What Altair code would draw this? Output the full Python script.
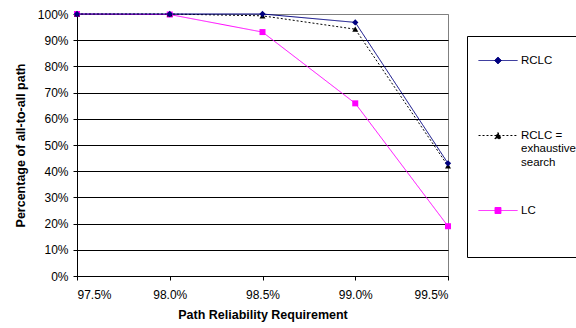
import altair as alt
import pandas as pd

# ---- data ----
requirements = [97.5, 98.0, 98.5, 99.0, 99.5]
series_names = ["LC", "RCLC = exhaustive search", "RCLC"]
rclc = [1.00, 1.00, 1.00, 0.968, 0.43]
rclc_exhaustive = [1.00, 1.00, 0.993, 0.942, 0.42]
lc = [1.00, 0.998, 0.931, 0.659, 0.19]
y_ticks = [0, 0.1, 0.2, 0.3, 0.4, 0.5, 0.6, 0.7, 0.8, 0.9, 1.0]
legend_order = ["RCLC", "RCLC = exhaustive search", "LC"]

rows = []
for name, vals in zip(series_names, [lc, rclc_exhaustive, rclc]):
    for r, v in zip(requirements, vals):
        rows.append({"req": r, "pct": v, "series": name, "s2": name})
df = pd.DataFrame(rows)

colors = {"RCLC": "#000080", "RCLC = exhaustive search": "#000000", "LC": "#FF00FF"}
marker_shapes = {"RCLC": "diamond", "RCLC = exhaustive search": "triangle-up", "LC": "square"}
marker_sizes = {"RCLC": 40, "RCLC = exhaustive search": 36, "LC": 36}
dom = legend_order
rng = [colors[s] for s in dom]

# legend symbol paths (line + marker), unit coordinates
A, B, C = -0.54, 1.083, 0.27
def line_path():
    return f"M{A},0L{B},0"
def dashed_path():
    parts = []
    x = A
    step = 0.083
    while x < B:
        x2 = min(x + step, B)
        parts.append(f"M{x:.3f},0L{x2:.3f},0")
        x += 2 * step
    return "".join(parts)
d = 0.146
diamond = f"M{C},{-d}L{C+d},0L{C},{d}L{C-d},0Z"
t = 0.13
triangle = f"M{C},{-t}L{C+t},{t}L{C-t},{t}Z"
s = 0.125
square = f"M{C-s},{-s}L{C+s},{-s}L{C+s},{s}L{C-s},{s}Z"
legend_shapes = [line_path() + diamond, dashed_path() + triangle, line_path() + square]

x_enc = alt.X("req:Q", scale=alt.Scale(domain=[97.5, 99.5], nice=False, zero=False),
              axis=alt.Axis(values=requirements, labelExpr="format(datum.value, '.1f') + '%'",
                            grid=False, tickSize=4, labelPadding=9, domainColor="black",
                            tickColor="black", title="Path Reliability Requirement",
                            titlePadding=8))
y_enc = alt.Y("pct:Q", scale=alt.Scale(domain=[0, 1], nice=False),
              axis=alt.Axis(values=y_ticks, format=".0%", tickSize=4, labelPadding=5,
                            domainColor="black", tickColor="black",
                            gridColor={"condition": {"test": "datum.value >= 0.999", "value": "#808080"},
                                       "value": "#000000"},
                            title="Percentage of all-to-all path", titlePadding=10))

label_expr = (
    "datum.label == 'RCLC = exhaustive search' ? ['RCLC =', 'exhaustive', 'search'] : "
    "(datum.label == 'LC' ? ['LC', ' ', ' ', ' '] : [datum.label, ' ', ' '])"
)

def make_legend():
    return alt.Legend(
        title=None, legendX=390, legendY=22, strokeColor="black", padding=0,
        rowPadding=18, labelOffset=5, labelFont="Liberation Sans", labelFontSize=11.5,
        labelColor="black", symbolSize=2304, symbolStrokeWidth=1, symbolOpacity=1,
        labelLimit=200, labelBaseline="middle", fillColor="white", labelExpr=label_expr,
    )

base = alt.Chart(df)
# hidden under the markers: carries the legend symbols (line + marker)
shape_layer = base.mark_point(filled=True, size=3, opacity=1).encode(
    x=x_enc, y=y_enc,
    shape=alt.Shape("s2:N", scale=alt.Scale(domain=dom, range=legend_shapes), legend=make_legend()),
)
lines = base.mark_line(strokeWidth=1).encode(
    x=x_enc, y=y_enc,
    color=alt.Color("series:N", scale=alt.Scale(domain=dom, range=rng), legend=None),
    strokeDash=alt.StrokeDash("series:N", scale=alt.Scale(domain=dom, range=[[1, 0], [2, 2], [1, 0]]), legend=None),
)
point_layers = []
for name in series_names:
    point_layers.append(
        base.transform_filter(alt.datum.series == name).mark_point(
            filled=True, opacity=1, shape=marker_shapes[name], size=marker_sizes[name],
            color=colors[name]
        ).encode(x=x_enc, y=y_enc)
    )
legend_layer = base.transform_filter("false").mark_point(filled=True, opacity=1).encode(
    x=x_enc, y=y_enc,
    fill=alt.Fill("series:N", scale=alt.Scale(domain=dom, range=rng), legend=make_legend()),
    stroke=alt.Stroke("series:N", scale=alt.Scale(domain=dom, range=rng), legend=make_legend()),
)

chart = alt.layer(shape_layer, lines, *point_layers, legend_layer).properties(
    width=371, height=262,
    autosize=alt.AutoSizeParams(type="none"),
    padding={"left": 77, "top": 14, "right": 128, "bottom": 52},
).configure_view(stroke="#808080", strokeWidth=1).configure_axis(
    labelFont="Liberation Sans", labelFontSize=12, labelColor="black",
    titleFont="Liberation Sans", titleFontSize=12.5, titleFontWeight="bold", titleColor="black",
    gridWidth=1,
).configure_legend(orient="none")

chart.save("out.html", embed_options={"renderer": "svg", "actions": False})
